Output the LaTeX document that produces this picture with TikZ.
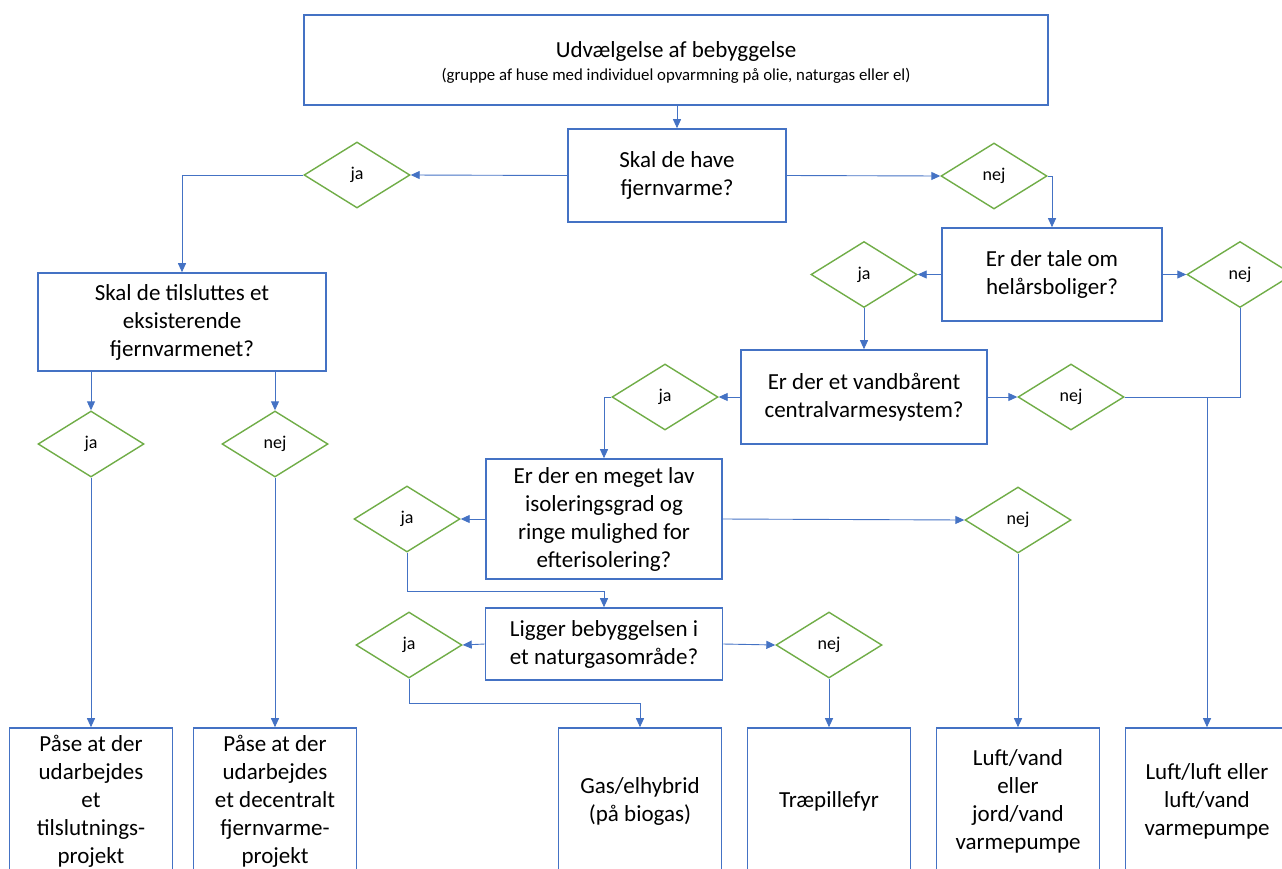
\documentclass[tikz,border=0pt]{standalone}
\usepackage{fontspec}
\setmainfont{Carlito}
\usetikzlibrary{shapes.geometric,arrows.meta,calc}
\definecolor{boxblue}{HTML}{4472C4}
\definecolor{lineblue}{HTML}{4472C4}
\definecolor{diagreen}{HTML}{70AD47}
\tikzset{
  box/.style={draw=boxblue, line width=1.6pt, fill=white, align=center, inner sep=0pt,
    font=\fontsize{23}{28}\selectfont},
  dia/.style={diamond, draw=diagreen, line width=1.4pt, fill=white, aspect=1.6,
    minimum width=106pt, minimum height=66pt, inner sep=0pt, font=\fontsize{18}{22}\selectfont},
  conn/.style={draw=lineblue, line width=0.9pt, -{Triangle[length=9pt,width=8pt]}},
  plain/.style={draw=lineblue, line width=0.9pt}
}
\begin{document}
\begin{tikzpicture}[x=1pt,y=-1pt]
\useasboundingbox (0,0) rectangle (1282,868);
\begin{scope}
\clip (0,0) rectangle (1282,868);
% boxes
\node[box, minimum width=744pt, minimum height=90pt] (top) at (676,60) {};
\node[align=center, inner sep=0pt, font=\fontsize{23}{28}\selectfont] (toptext) at (676,62)
  {Udvælgelse af bebyggelse\\[-5pt]{\fontsize{16.8}{20}\selectfont (gruppe af huse med individuel opvarmning på olie, naturgas eller el)}};
\node[box, minimum width=218pt, minimum height=93pt] (q1) at (677,175.5) {Skal de have\\fjernvarme?};
\node[box, minimum width=288pt, minimum height=98pt] (q2) at (182,322) {Skal de tilsluttes et\\eksisterende\\fjernvarmenet?};
\node[box, minimum width=220pt, minimum height=93pt] (q3) at (1052,274.5) {Er der tale om\\helårsboliger?};
\node[box, minimum width=246pt, minimum height=94pt] (q4) at (864,397) {Er der et vandbårent\\centralvarmesystem?};
\node[box, minimum width=236pt, minimum height=120pt] (q5) at (604,519) {Er der en meget lav\\isoleringsgrad og\\ringe mulighed for\\efterisolering?};
\node[box, minimum width=237pt, minimum height=72pt] (q6) at (604,644) {Ligger bebyggelsen i\\et naturgasområde?};
% bottom boxes
\node[box, minimum width=163pt, minimum height=146pt] (b1) at (91,801) {Påse at der\\udarbejdes\\et\\tilslutnings-\\projekt};
\node[box, minimum width=163pt, minimum height=146pt] (b2) at (275,801) {Påse at der\\udarbejdes\\et decentralt\\fjernvarme-\\projekt};
\node[box, minimum width=163pt, minimum height=146pt] (b3) at (640,801) {Gas/elhybrid\\(på biogas)};
\node[box, minimum width=163pt, minimum height=146pt] (b4) at (829,801) {Træpillefyr};
\node[box, minimum width=163pt, minimum height=146pt] (b5) at (1018,801) {Luft/vand\\eller\\jord/vand\\varmepumpe};
\node[box, minimum width=163pt, minimum height=146pt] (b6) at (1207,801) {Luft/luft eller\\luft/vand\\varmepumpe};
% diamonds
\node[dia] (ja1) at (357,175) {ja};
\node[dia] (nej1) at (994,176) {nej};
\node[dia] (ja2) at (864,274.5) {ja};
\node[dia] (nej2) at (1240,274.5) {nej};
\node[dia] (ja3) at (665,397) {ja};
\node[dia] (nej3) at (1071,397) {nej};
\node[dia] (ja4) at (407,519) {ja};
\node[dia] (nej4) at (1018,520) {nej};
\node[dia] (ja5) at (409,645) {ja};
\node[dia] (nej5) at (829,645) {nej};
\node[dia] (ja6) at (91,444) {ja};
\node[dia] (nej6) at (275,444) {nej};
% connectors
\draw[conn] (top.south -| q1.north) -- (q1.north);
\draw[conn] (q1.west) -- (ja1.east);
\draw[conn] (q1.east) -- (nej1.west);
\draw[conn] (ja1.west) -| (q2.north);
\draw[conn] (nej1.east) -| (q3.north);
\draw[conn] (q3.west) -- (ja2.east);
\draw[conn] (q3.east) -- (nej2.west);
\draw[conn] (ja2.south) -- (q4.north);
\draw[conn] (q4.west) -- (ja3.east);
\draw[conn] (q4.east) -- (nej3.west);
\draw[plain] (nej3.east) -| (nej2.south);
\coordinate (jn) at (b6.north |- nej3.east);
\draw[conn] (jn) -- (b6.north);
\draw[conn] (ja3.west) -| (q5.north);
\draw[conn] (q5.west) -- (ja4.east);
\draw[conn] (q5.east) -- (nej4.west);
\draw[conn] (ja4.south) -- ++(0,39) -| (q6.north);
\draw[conn] (q6.west) -- (ja5.east);
\draw[conn] (q6.east) -- (nej5.west);
\draw[conn] (ja5.south) -- ++(0,25) -| (b3.north);
\draw[conn] (nej5.south) -- (b4.north);
\draw[conn] (nej4.south) -- (b5.north);
\draw[conn] (ja6.north |- q2.south) -- (ja6.north);
\draw[conn] (nej6.north |- q2.south) -- (nej6.north);
\draw[conn] (ja6.south) -- (b1.north);
\draw[conn] (nej6.south) -- (b2.north);
\end{scope}
\end{tikzpicture}
\end{document}
